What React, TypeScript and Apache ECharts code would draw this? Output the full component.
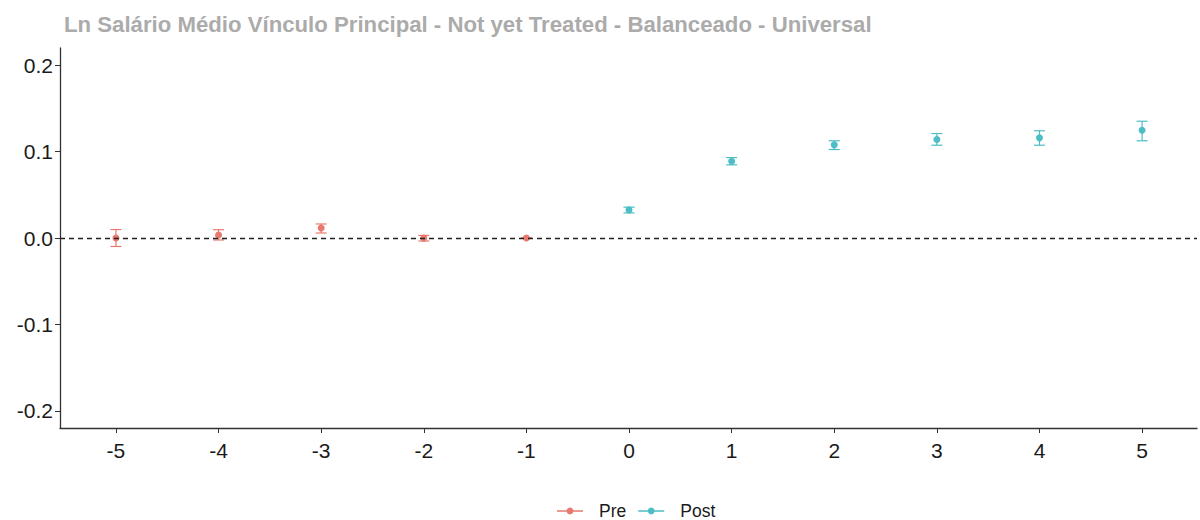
import React, { useEffect, useRef } from "react";
import * as echarts from "echarts";

const titleText = "Ln Salário Médio Vínculo Principal - Not yet Treated - Balanceado - Universal";
const preX = [-5, -4, -3, -2, -1];
const preEst = [0.0, 0.0035, 0.0115, 0.0, 0.0];
const preLo = [-0.0098, -0.0023, 0.0058, -0.0035, 0.0];
const preHi = [0.0098, 0.0096, 0.0162, 0.003, 0.0];
const postX = [0, 1, 2, 3, 4, 5];
const postEst = [0.0325, 0.0888, 0.1077, 0.1139, 0.1158, 0.1245];
const postLo = [0.029, 0.0846, 0.1023, 0.1073, 0.1073, 0.1124];
const postHi = [0.0356, 0.093, 0.1124, 0.1208, 0.124, 0.135];
const xTicks = [-5, -4, -3, -2, -1, 0, 1, 2, 3, 4, 5];
const yTicks = [-0.2, -0.1, 0.0, 0.1, 0.2];

const PRE_COLOR = "#E8796F";
const POST_COLOR = "#4DBEC5";
const FONT = "Liberation Sans, Arial, sans-serif";

const legendIcon =
  "path://M0,4.4 H20 V5.6 H0 Z " +
  "M12.6,5 C12.6,6.44 11.44,7.6 10,7.6 C8.56,7.6 7.4,6.44 7.4,5 C7.4,3.56 8.56,2.4 10,2.4 C11.44,2.4 12.6,3.56 12.6,5 Z";

function errRender(color: string) {
  return (params: any, api: any) => {
    const x = api.value(0);
    const lo = api.coord([x, api.value(1)]);
    const hi = api.coord([x, api.value(2)]);
    const cap = 5.5;
    const style = { stroke: color, lineWidth: 1.2, fill: "none" };
    return {
      type: "group",
      children: [
        { type: "line", shape: { x1: lo[0], y1: lo[1], x2: hi[0], y2: hi[1] }, style },
        { type: "line", shape: { x1: lo[0] - cap, y1: lo[1], x2: lo[0] + cap, y2: lo[1] }, style },
        { type: "line", shape: { x1: hi[0] - cap, y1: hi[1], x2: hi[0] + cap, y2: hi[1] }, style },
      ],
    };
  };
}

export default function App() {
  const ref = useRef<HTMLDivElement>(null);
  useEffect(() => {
    document.body.style.margin = "0";
    const chart = echarts.init(ref.current!, null, { renderer: "svg" });
    const axisColor = "#333333";
    chart.setOption({
      animation: false,
      backgroundColor: "#ffffff",
      title: {
        text: titleText,
        left: 59,
        top: 8,
        textStyle: {
          fontFamily: FONT,
          fontWeight: "bold",
          fontSize: 22.2,
          color: "#ABABAB",
        },
      },
      grid: {
        left: 60,
        right: 3,
        top: 48,
        bottom: 92,
        containLabel: false,
        outerBoundsMode: "none",
      },
      xAxis: {
        type: "value",
        min: -5.545,
        max: 5.535,
        splitLine: { show: false },
        axisLine: { show: true, onZero: false, lineStyle: { color: axisColor, width: 1.3 } },
        axisTick: { show: true, length: 5, customValues: xTicks, lineStyle: { color: axisColor } },
        axisLabel: {
          customValues: xTicks,
          fontFamily: FONT,
          fontSize: 21,
          color: "#1a1a1a",
          margin: 12,
          formatter: (v: number) => String(Math.round(v)),
        },
      },
      yAxis: {
        type: "value",
        min: -0.2197,
        max: 0.2197,
        splitLine: { show: false },
        axisLine: { show: true, onZero: false, lineStyle: { color: axisColor, width: 1.3 } },
        axisTick: { show: true, length: 5, customValues: yTicks, lineStyle: { color: axisColor } },
        axisLabel: {
          customValues: yTicks,
          fontFamily: FONT,
          fontSize: 21,
          color: "#1a1a1a",
          margin: 7,
          formatter: (v: number) => v.toFixed(1),
        },
      },
      legend: {
        top: 502,
        left: 557,
        itemWidth: 26,
        itemHeight: 7,
        itemGap: 12,
        padding: 0,
        textStyle: {
          fontFamily: FONT,
          fontSize: 17.5,
          lineHeight: 15,
          color: "#1a1a1a",
          padding: [0, 0, 0, 11],
        },
        data: [
          { name: "Pre", icon: legendIcon, itemStyle: { color: PRE_COLOR } },
          { name: "Post", icon: legendIcon, itemStyle: { color: POST_COLOR } },
        ],
      },
      series: [
        {
          name: "Pre",
          type: "custom",
          renderItem: errRender(PRE_COLOR),
          data: preX.map((x, i) => [x, preLo[i], preHi[i]]),
          itemStyle: { color: PRE_COLOR },
          z: 3,
        },
        {
          name: "Pre",
          type: "scatter",
          symbolSize: 7,
          itemStyle: { color: PRE_COLOR, opacity: 1 },
          data: preX.map((x, i) => [x, preEst[i]]),
          z: 4,
          markLine: {
            silent: true,
            symbol: "none",
            label: { show: false },
            lineStyle: { color: "#222222", type: [5, 4], width: 1.3 },
            data: [{ yAxis: 0 }],
          },
        },
        {
          name: "Post",
          type: "custom",
          renderItem: errRender(POST_COLOR),
          data: postX.map((x, i) => [x, postLo[i], postHi[i]]),
          itemStyle: { color: POST_COLOR },
          z: 3,
        },
        {
          name: "Post",
          type: "scatter",
          symbolSize: 7,
          itemStyle: { color: POST_COLOR, opacity: 1 },
          data: postX.map((x, i) => [x, postEst[i]]),
          z: 4,
        },
      ],
    });
    return () => chart.dispose();
  }, []);
  return (
    <div
      ref={ref}
      style={{ position: "absolute", left: 0, top: 0, width: 1200, height: 520 }}
    />
  );
}
